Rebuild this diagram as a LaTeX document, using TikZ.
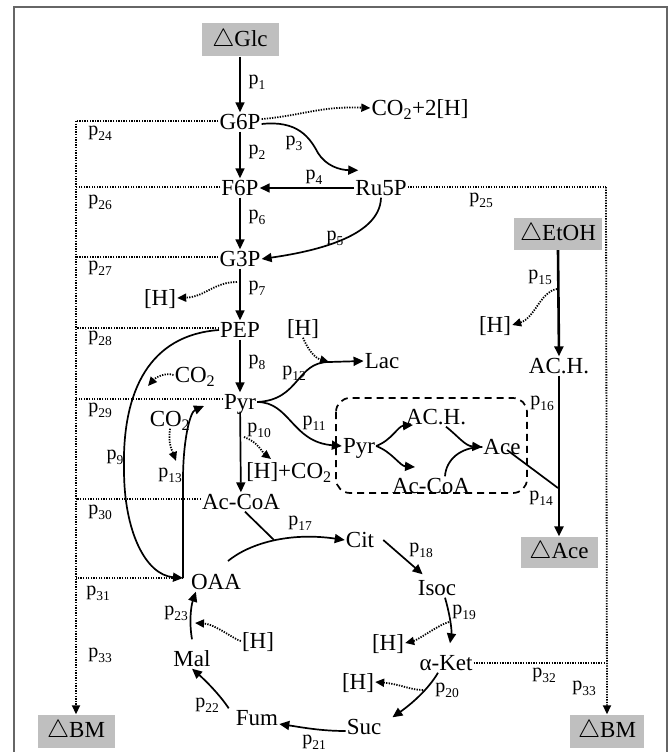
\documentclass[tikz,border=0pt]{standalone}
\usepackage{fontspec}
\setmainfont{Liberation Serif}
\usetikzlibrary{arrows.meta,calc}
\newcommand\plab[1]{p\raisebox{-0.25em}{\fontsize{13.5}{13.5}\selectfont #1}}
\begin{document}
\begin{tikzpicture}[x=1pt,y=-1pt,
 txt/.style={font=\fontsize{23}{23}\selectfont, inner sep=1pt, text height=16pt, text depth=1pt},
 lab/.style={font=\fontsize{20}{20}\selectfont, inner sep=0pt},
 gbox/.style={fill=black!25, font=\fontsize{23}{23}\selectfont, inner sep=0pt, minimum width=77pt, minimum height=33pt},
 flow/.style={line width=1.7pt, -{Triangle[length=10pt,width=9pt]}},
 link/.style={line width=1.7pt},
 dots/.style={line width=1.8pt, dash pattern=on 1.3pt off 1.3pt, -{Triangle[length=9pt,width=8pt]}},
 dline/.style={line width=1.8pt, dash pattern=on 1.3pt off 1.3pt},
]
\useasboundingbox (0,0) rectangle (669,752);
\draw[black!60, line width=1.5pt] (14,770) -- (14,7) -- (667,7) -- (667,770);

% nodes
\node[gbox] (Glc) at (240,40) {$\triangle$Glc};
\node[txt] (G6P) at (240,122) {G6P};
\node[txt] (F6P) at (240,188) {F6P};
\node[txt] (Ru5P) at (381,188) {Ru5P};
\node[txt] (G3P) at (240,259) {G3P};
\node[txt] (PEP) at (240,330) {PEP};
\node[txt] (Pyr) at (240,402) {Pyr};
\node[txt] (AcCoA) at (241,502) {Ac-CoA};
\node[txt] (CO2H) at (420,108) {CO\textsubscript{2}+2[H]};
\node[txt] (H1) at (160,298) {[H]};
\node[txt] (H2) at (303,328) {[H]};
\node[txt] (Lac) at (382,361) {Lac};
\node[txt] (CO2a) at (195,375) {CO\textsubscript{2}};
\node[txt] (CO2b) at (170,419) {CO\textsubscript{2}};
\node[txt] (HCO2) at (289,471) {[H]+CO\textsubscript{2}};
\node[txt] (Pyr2) at (359,446) {Pyr};
\node[txt] (ACH2) at (436,417) {AC.H.};
\node[txt] (Ace2) at (502,447) {Ace};
\node[txt] (AcCoA2) at (431,486) {Ac-CoA};
\node[gbox, minimum width=88pt, minimum height=32pt] (EtOH) at (558,234) {$\triangle$EtOH};
\node[txt] (H3) at (495,325) {[H]};
\node[txt] (ACH) at (559,366) {AC.H.};
\node[gbox, minimum height=31pt] (Ace) at (559,552) {$\triangle$Ace};
\node[txt] (Cit) at (360,540) {Cit};
\node[txt] (Isoc) at (437,588) {Isoc};
\node[txt] (H4) at (388,643) {[H]};
\node[txt] (aKet) at (446,663) {α-Ket};
\node[txt] (H5) at (358,682) {[H]};
\node[txt] (Suc) at (364,727) {Suc};
\node[txt] (Fum) at (257,718) {Fum};
\node[txt] (Mal) at (192,659) {Mal};
\node[txt] (H6) at (258,641) {[H]};
\node[txt] (OAA) at (216,582) {OAA};
\node[gbox] (BMl) at (76,731) {$\triangle$BM};
\node[gbox, minimum width=74pt] (BMr) at (607,731) {$\triangle$BM};

% coordinates
\coordinate (LV) at (76,121);
\coordinate (RV) at (606,187);
\coordinate (Jo) at (183,578);
\coordinate (J7) at (237,282);
\coordinate (J9) at (148,386);
\coordinate (J10) at (244,437);
\coordinate (E10) at (271,459);
\coordinate (J12) at (329,362);
\coordinate (J13) at (204,406);
\coordinate (E13) at (176,461);
\coordinate (J15) at (557,289);
\coordinate (J14) at (558,488);
\coordinate (J17) at (274,540);
\coordinate (S17) at (228,561);
\coordinate (J19) at (449,622);
\coordinate (J20) at (423,690);
\coordinate (J23) at (195,623);
\coordinate (Ea) at (413,425);
\coordinate (Eb) at (415,467);

% side dotted lines
\draw[dline] ([yshift=1pt]G6P.west) -- ([yshift=1pt]G6P.west -| LV);
\draw[dline] ([yshift=1pt]F6P.west) -- ([yshift=1pt]F6P.west -| LV);
\draw[dline] ([yshift=2pt]G3P.west) -- ([yshift=2pt]G3P.west -| LV);
\draw[dline] ([yshift=2pt]PEP.west) -- ([yshift=2pt]PEP.west -| LV);
\draw[dline] ([yshift=3pt]Pyr.west) -- ([yshift=3pt]Pyr.west -| LV);
\draw[dline] ([yshift=3pt]AcCoA.west) -- ([yshift=3pt]AcCoA.west -| LV);
\draw[dline] (Jo) -- (Jo -| LV);
\draw[dots] (LV) -- (BMl.north);
\draw[dline] ([yshift=1pt]Ru5P.east) -- (RV);
\draw[dots] (RV) -- (BMr.north);
\draw[dline] (aKet.east) -- (aKet.east -| RV);

% main column
\draw[flow] (Glc) -- (G6P);
\draw[flow] (G6P) -- (F6P);
\draw[flow] (F6P) -- (G3P);
\draw[flow] (G3P) -- (PEP);
\draw[flow] (PEP) -- (Pyr);
\draw[flow] (Pyr) -- (AcCoA);

\draw[dots] ([yshift=3pt]G6P.east) .. controls (300,116) and (320,106) .. (CO2H.west);
\draw[flow] ([yshift=-2pt]G6P.east) .. controls (298,120) and (310,138) .. (318,153) .. controls (326,166) and (340,170) .. ([shift={(4pt,8pt)}]Ru5P.north west);
\draw[flow] (Ru5P.west) -- (F6P.east);
\draw[flow] (Ru5P.south) .. controls (380,238) and (310,252) .. (G3P.east);
\draw[dots] (J7) .. controls (214,282) and (205,297) .. (H1.east);
\draw[dots] (H2.south) .. controls (308,350) and (315,358) .. (J12);
\draw[flow] (Pyr.east) .. controls (300,400) and (296,362) .. (J12) -- (Lac.west);
\draw[flow] (Pyr.east) .. controls (290,402) and (292,442) .. (Pyr2.west);
\draw[flow] (PEP.west) .. controls (150,335) and (122,390) .. (124,470) .. controls (124,530) and (145,575) .. (Jo);
\draw[dots] (CO2a.west) .. controls (165,372) and (155,378) .. (J9);
\draw[dots] (CO2b.south) .. controls (168,445) and (172,450) .. (E13);
\draw[flow] (Jo) -- (183,480) .. controls (183,440) and (190,412) .. (J13);
\draw[dots] (J10) .. controls (258,442) and (262,452) .. (E10);

% ethanol column
\draw[flow, line width=2.6pt] (EtOH.south) -- (ACH.north);
\draw[flow, line width=2.6pt] (ACH.south) -- (Ace.north);
\draw[dots] (J15) .. controls (540,292) and (535,318) .. (H3.east);
\draw[link] ([shift={(5pt,-3pt)}]Ace2.center) -- (J14);

% dashed box
\draw[line width=1.7pt, dash pattern=on 7pt off 5pt, rounded corners=14pt] (336,398) rectangle (527,493);
\draw[flow] (Pyr2.east) .. controls (392,440) and (398,426) .. (Ea);
\draw[flow] (Pyr2.east) .. controls (392,452) and (400,466) .. (Eb);
\draw[flow] ([xshift=10pt]ACH2.south) .. controls (458,436) and (465,446) .. (Ace2.west);
\draw[link] ([xshift=14pt]AcCoA2.north) .. controls (446,460) and (460,447) .. (Ace2.west);

% TCA
\draw[flow] (S17) .. controls (250,543) and (290,532) .. (Cit.west);
\draw[link] ([xshift=4pt]AcCoA.south) -- (J17);
\draw[flow] ([xshift=8pt]Cit.east) -- ([shift={(6pt,4pt)}]Isoc.north west);
\draw[flow] ([xshift=8pt]Isoc.south) .. controls (450,615) and (452,630) .. ([shift={(4pt,10pt)}]aKet.north);
\draw[dots] (J19) .. controls (440,624) and (418,640) .. (H4.east);
\draw[flow] ([xshift=-8pt]aKet.south) .. controls (428,690) and (410,705) .. ([xshift=10pt]Suc.north east);
\draw[dots] (J20) .. controls (410,690) and (400,684) .. (H5.east);
\draw[flow] ([yshift=-4pt]Suc.west) .. controls (320,731) and (300,727) .. ([yshift=-6pt]Fum.east);
\draw[flow] ([xshift=-6pt]Fum.north west) .. controls (220,695) and (205,680) .. (Mal.south);
\draw[flow] ([yshift=10pt]Mal.north) .. controls (189,622) and (191,606) .. ([xshift=6pt]OAA.south west);
\draw[dots] (H6.west) .. controls (235,640) and (215,624) .. (J23);

% labels
\node[lab] at (257,82) {\plab{1}};
\node[lab] at (257,152) {\plab{2}};
\node[lab] at (294,143) {\plab{3}};
\node[lab] at (314,177) {\plab{4}};
\node[lab] at (335,238) {\plab{5}};
\node[lab] at (257,217) {\plab{6}};
\node[lab] at (257,288) {\plab{7}};
\node[lab] at (257,362) {\plab{8}};
\node[lab] at (115,457) {\plab{9}};
\node[lab] at (259,430) {\plab{10}};
\node[lab] at (314,423) {\plab{11}};
\node[lab] at (294,373) {\plab{12}};
\node[lab] at (170,475) {\plab{13}};
\node[lab] at (541,498) {\plab{14}};
\node[lab] at (540,277) {\plab{15}};
\node[lab] at (542,403) {\plab{16}};
\node[lab] at (300,523) {\plab{17}};
\node[lab] at (421,550) {\plab{18}};
\node[lab] at (464,612) {\plab{19}};
\node[lab] at (447,690) {\plab{20}};
\node[lab] at (314,742) {\plab{21}};
\node[lab] at (207,705) {\plab{22}};
\node[lab] at (176,613) {\plab{23}};
\node[lab] at (100,133) {\plab{24}};
\node[lab] at (481,200) {\plab{25}};
\node[lab] at (100,202) {\plab{26}};
\node[lab] at (100,268) {\plab{27}};
\node[lab] at (100,338) {\plab{28}};
\node[lab] at (100,410) {\plab{29}};
\node[lab] at (100,512) {\plab{30}};
\node[lab] at (98,593) {\plab{31}};
\node[lab] at (544,675) {\plab{32}};
\node[lab] at (100,655) {\plab{33}};
\node[lab] at (584,688) {\plab{33}};
\end{tikzpicture}
\end{document}
